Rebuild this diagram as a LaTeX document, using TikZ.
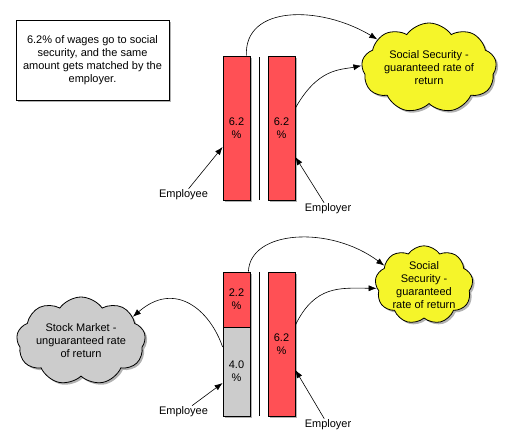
\documentclass[tikz,border=0pt]{standalone}
\usepackage{fontspec}
\setmainfont{Liberation Sans}
\usetikzlibrary{shapes.symbols,shadows,arrows.meta,calc}
\definecolor{barred}{RGB}{255,80,85}
\definecolor{ssyellow}{RGB}{245,245,42}
\definecolor{bargrey}{RGB}{204,204,204}
\begin{document}
\begin{tikzpicture}[x=1pt,y=-1pt,
  every node/.style={font=\fontsize{11}{13}\selectfont},
  shad/.style={drop shadow={shadow xshift=2pt,shadow yshift=-2pt,fill=black,opacity=0.3}},
  bar/.style={draw,line width=0.8pt,minimum width=27pt,inner sep=0pt,align=center,shad},
  redbar/.style={bar,fill=barred},
  greybar/.style={bar,fill=bargrey},
  cloudnode/.style={cloud,cloud puffs=9,cloud puff arc=110,cloud ignores aspect,draw,line width=0.8pt,align=center,inner sep=0pt,shad},
  conn/.style={line width=0.6pt,-{Latex[length=8pt,width=6pt]}},
  lbl/.style={inner sep=1pt},
  sep/.style={line width=0.8pt}
]
\useasboundingbox (0,0) rectangle (518,439);
\fill[white] (0,0) rectangle (518,439);

% note box
\node[draw,fill=white,line width=0.8pt,minimum width=153pt,minimum height=80pt,align=center,inner sep=0pt,shad] (note) at (92.5,60)
  {6.2\% of wages go to social\\security, and the same\\amount gets matched by the\\employer.};

% top bars
\node[redbar,minimum height=144pt] (b1) at (236.5,128) {6.2\\\%};
\node[redbar,minimum height=144pt] (b2) at (281.5,128) {6.2\\\%};
\coordinate (s1a) at (259,57); \coordinate (s1b) at (259,200);
\draw[sep] (s1a) -- (s1b);

% top cloud
\node[cloudnode,fill=ssyellow,minimum width=135pt,minimum height=90pt] (ss1) at (429,68)
  {Social Security -\\guaranteed rate of\\return};

% top labels
\node[lbl] (emp1) at (183.5,195) {Employee};
\node[lbl] (er1) at (328,209) {Employer};

% bottom bars
\node[redbar,minimum height=55pt] (b3) at (236.5,299.5) {2.2\\\%};
\node[greybar,minimum height=89pt] (b4) at (236.5,371.5) {4.0\\\%};
\node[redbar,minimum height=144pt] (b5) at (281.5,344) {6.2\\\%};
\coordinate (s2a) at (259,272); \coordinate (s2b) at (259,416);
\draw[sep] (s2a) -- (s2b);

% bottom clouds
\node[cloudnode,fill=ssyellow,minimum width=98pt,minimum height=70pt] (ss2) at (424,285)
  {Social\\Security -\\guaranteed\\rate of return};
\node[cloudnode,fill=bargrey,minimum width=129pt,minimum height=88pt] (sm) at (81,341)
  {Stock Market -\\unguaranteed rate\\of return};

% bottom labels
\node[lbl] (emp2) at (183.5,412) {Employee};
\node[lbl] (er2) at (328,425) {Employer};

% connectors top
\draw[conn] ($(b1.north east)+(-4,0)$) .. controls (244,5) and (320,5) .. (ss1.151);
\draw[conn] ($(b2.east)+(0,-20)$) .. controls (318,68) and (340,70) .. (ss1.178);
\draw[conn] (emp1) -- ($(b1.west)+(0,19)$);
\draw[conn] (er1) -- ($(b2.east)+(0,29)$);

% connectors bottom
\draw[conn] ($(b3.north east)+(-2,0)$) .. controls (250,230) and (330,225) .. (ss2.154);
\draw[conn] ($(b5.east)+(0,-19)$) .. controls (315,285) and (340,288) .. (ss2.184);
\draw[conn] ($(b4.west)+(0,-24.5)$) .. controls (210,310) and (175,280) .. (sm.25);
\draw[conn] (emp2) -- ($(b4.west)+(0,11.5)$);
\draw[conn] (er2) -- ($(b5.east)+(0,26)$);
\end{tikzpicture}
\end{document}
